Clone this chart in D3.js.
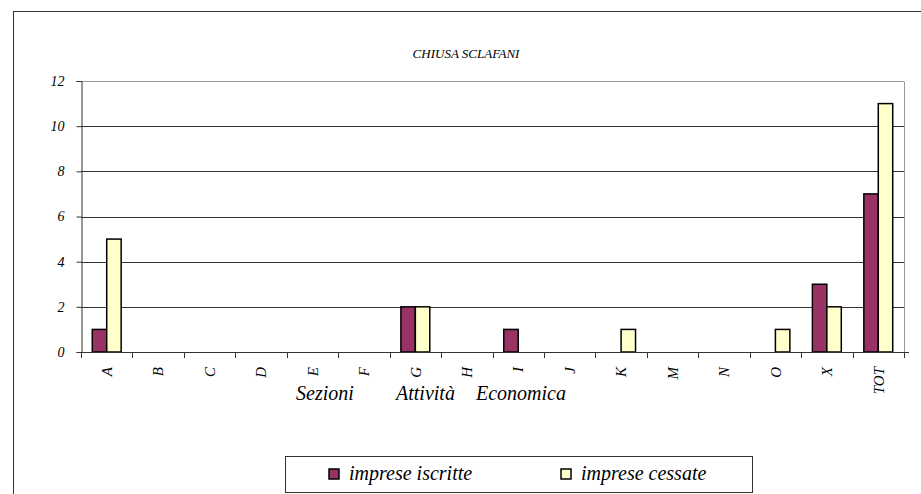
<!DOCTYPE html>
<html>
<head>
<meta charset="utf-8">
<script src="https://cdn.jsdelivr.net/npm/d3@7"></script>
<style>
  body { margin: 0; background: #fff; }
</style>
</head>
<body>
<script>
const categories = ['A','B','C','D','E','F','G','H','I','J','K','M','N','O','X','TOT'];
const iscritte = [1,0,0,0,0,0,2,0,1,0,0,0,0,0,3,7];
const cessate  = [5,0,0,0,0,0,2,0,0,0,1,0,0,1,2,11];
const seriesNames = ['imprese iscritte', 'imprese cessate'];
const seriesColors = ['#993366', '#ffffcc'];
const yTicks = [0,2,4,6,8,10,12];

const width = 921, height = 494;
const plot = { left: 81, top: 81, right: 904, bottom: 352 };
const serif = 'Liberation Serif';

const svg = d3.select('body').append('svg')
  .attr('width', width)
  .attr('height', height);

// outer frame
svg.append('rect')
  .attr('x', 13.5).attr('y', 11.5)
  .attr('width', 920).attr('height', 500)
  .attr('fill', 'none')
  .attr('stroke', '#333')
  .attr('stroke-width', 1);

svg.append('text')
  .attr('x', 466).attr('y', 58)
  .attr('text-anchor', 'middle')
  .attr('font-family', serif).attr('font-style', 'italic')
  .attr('font-size', 13)
  .text('CHIUSA SCLAFANI');

const x = d3.scaleBand()
  .domain(categories)
  .range([plot.left, plot.right]);

const x1 = d3.scaleBand()
  .domain([0, 1])
  .range([0, x.bandwidth()])
  .paddingOuter(0.78)
  .paddingInner(0);

const y = d3.scaleLinear().domain([0, 12]).range([plot.bottom, plot.top]);

// gridlines
svg.append('g')
  .selectAll('line')
  .data(yTicks.filter(d => d > 0))
  .enter().append('line')
  .attr('x1', plot.left).attr('x2', plot.right)
  .attr('y1', d => Math.round(y(d)) + 0.5)
  .attr('y2', d => Math.round(y(d)) + 0.5)
  .attr('stroke', d => d === 12 ? '#999' : '#333')
  .attr('stroke-width', 1);

// right border of plot area
svg.append('line')
  .attr('x1', plot.right + 0.5).attr('x2', plot.right + 0.5)
  .attr('y1', Math.round(y(12)) + 0.5).attr('y2', plot.bottom)
  .attr('stroke', '#999');

// bars
const rows = categories.map((c, i) => ({ cat: c, vals: [iscritte[i], cessate[i]] }));
const groups = svg.append('g').selectAll('g')
  .data(rows)
  .enter().append('g')
  .attr('transform', d => `translate(${x(d.cat)},0)`);

groups.selectAll('rect')
  .data(d => d.vals.map((v, k) => ({ v, k })).filter(e => e.v > 0))
  .enter().append('rect')
  .attr('x', d => x1(d.k))
  .attr('y', d => y(d.v))
  .attr('width', x1.bandwidth())
  .attr('height', d => y(0) - y(d.v))
  .attr('fill', d => seriesColors[d.k])
  .attr('stroke', '#000')
  .attr('stroke-width', 1.5);

// y axis
const yAxis = svg.append('g')
  .attr('transform', `translate(${plot.left + 0.5},0)`)
  .call(d3.axisLeft(y).tickValues(yTicks).tickSize(5).tickPadding(12).tickFormat(d3.format('d')));
yAxis.attr('font-family', serif).attr('font-size', 14).attr('font-style', 'italic');
yAxis.select('.domain').attr('stroke', '#333');
yAxis.selectAll('.tick line').attr('stroke', '#333');

// x axis
svg.append('line')
  .attr('x1', plot.left).attr('x2', plot.right + 5)
  .attr('y1', plot.bottom + 0.5).attr('y2', plot.bottom + 0.5)
  .attr('stroke', '#333');

svg.append('g').selectAll('line')
  .data(categories.map(c => x(c)).concat([plot.right]))
  .enter().append('line')
  .attr('x1', d => Math.round(d) + 0.5).attr('x2', d => Math.round(d) + 0.5)
  .attr('y1', plot.bottom).attr('y2', plot.bottom + 6)
  .attr('stroke', '#333');

svg.append('g').selectAll('text')
  .data(categories)
  .enter().append('text')
  .attr('transform', d => `translate(${x(d) + x.bandwidth() / 2},${plot.bottom + 15}) rotate(-90)`)
  .attr('text-anchor', 'end')
  .attr('dy', '0.35em')
  .attr('font-family', serif).attr('font-style', 'italic')
  .attr('font-size', 15)
  .text(d => d);

// axis title
const axisWords = [['Sezioni', 296], ['Attività', 396], ['Economica', 476]];
svg.append('g').selectAll('text')
  .data(axisWords)
  .enter().append('text')
  .attr('x', d => d[1]).attr('y', 400)
  .attr('font-family', serif).attr('font-style', 'italic')
  .attr('font-size', 20)
  .text(d => d[0]);

// legend
const legend = svg.append('g');
legend.append('rect')
  .attr('x', 285.5).attr('y', 456.5)
  .attr('width', 467).attr('height', 36)
  .attr('fill', '#fff')
  .attr('stroke', '#333');

const legendX = [329, 561];
const items = legend.selectAll('g.item')
  .data(seriesNames)
  .enter().append('g')
  .attr('class', 'item')
  .attr('transform', (d, i) => `translate(${legendX[i]},469)`);

items.append('rect')
  .attr('width', 10).attr('height', 10)
  .attr('fill', (d, i) => seriesColors[i])
  .attr('stroke', '#000')
  .attr('stroke-width', 1.5);

items.append('text')
  .attr('x', 20).attr('y', 11)
  .attr('font-family', serif).attr('font-style', 'italic')
  .attr('font-size', 20)
  .text(d => d);
</script>
</body>
</html>
